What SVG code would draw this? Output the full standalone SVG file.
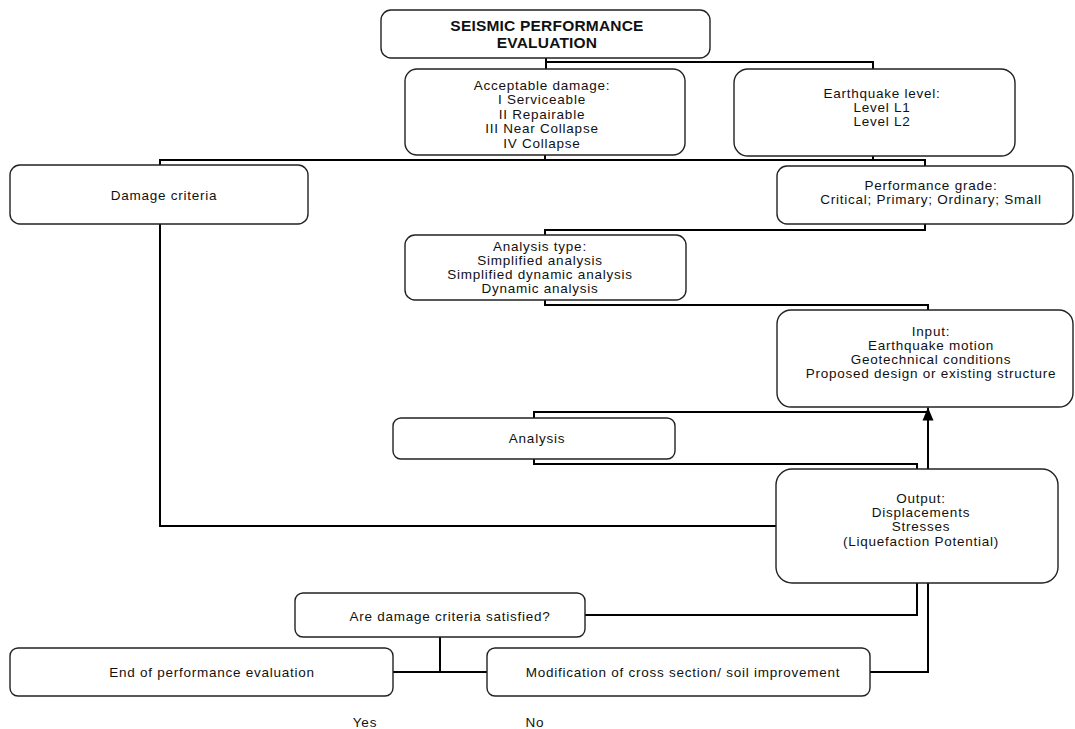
<svg xmlns="http://www.w3.org/2000/svg" width="1075" height="729" viewBox="0 0 1075 729">
<style>
.box{fill:#fff;stroke:#222;stroke-width:1.4}
.t{font-family:"Liberation Sans",Arial,sans-serif;font-size:13.5px;letter-spacing:0.75px;fill:#111;text-anchor:middle}
.b{font-weight:bold;font-size:15.5px;letter-spacing:0.2px}
.c{fill:none;stroke:#000;stroke-width:2}
</style>
<defs>
<marker id="ah" markerWidth="14" markerHeight="12" refX="13" refY="6" orient="auto" markerUnits="userSpaceOnUse">
<path d="M0,0.5 L13,6 L0,11.5 Z" fill="#000"/>
</marker>
</defs>
<rect width="1075" height="729" fill="#fff"/>
<g id="connectors">
<path class="c" d="M546,58 V69"/>
<path class="c" d="M546,62 H873 V69"/>
<path class="c" d="M545,155 V160"/>
<path class="c" d="M160,165 V160 H925 V166"/>
<path class="c" d="M873,156 V160"/>
<path class="c" d="M925,224 V230 H545 V235"/>
<path class="c" d="M545,300 V305 H928 V310"/>
<path class="c" d="M928,469 V407.5" marker-end="url(#ah)"/>
<path class="c" d="M534,418 V412 H928"/>
<path class="c" d="M534,459 V464 H917 V469"/>
<path class="c" d="M160,224 V526 H776"/>
<path class="c" d="M917,583 V615 H585"/>
<path class="c" d="M928,583 V672 H870"/>
<path class="c" d="M440,637 V672"/>
<path class="c" d="M393,672 H487"/>
</g>
<g id="n-seismic">
<rect class="box" x="381" y="10" width="329" height="48" rx="10"/>
<text class="t b" x="547" y="31">SEISMIC PERFORMANCE</text>
<text class="t b" x="547" y="48">EVALUATION</text>
</g>
<g id="n-acceptable">
<rect class="box" x="405" y="69" width="280" height="86" rx="12"/>
<text class="t" x="542" y="90">Acceptable damage:</text>
<text class="t" x="542" y="104">I Serviceable</text>
<text class="t" x="542" y="118.5">II Repairable</text>
<text class="t" x="542" y="133">III Near Collapse</text>
<text class="t" x="542" y="147.5">IV Collapse</text>
</g>
<g id="n-earthquake">
<rect class="box" x="734" y="69" width="281" height="87" rx="14"/>
<text class="t" x="882" y="98">Earthquake level:</text>
<text class="t" x="882" y="112">Level L1</text>
<text class="t" x="882" y="126">Level L2</text>
</g>
<g id="n-damage">
<rect class="box" x="10" y="165" width="298" height="59" rx="10"/>
<text class="t" x="164" y="200">Damage criteria</text>
</g>
<g id="n-grade">
<rect class="box" x="777" y="166" width="296" height="58" rx="10"/>
<text class="t" x="931" y="190">Performance grade:</text>
<text class="t" x="931" y="204">Critical; Primary; Ordinary; Small</text>
</g>
<g id="n-type">
<rect class="box" x="405" y="235" width="281" height="65" rx="10"/>
<text class="t" x="540" y="251">Analysis type:</text>
<text class="t" x="540" y="265">Simplified analysis</text>
<text class="t" x="540" y="279">Simplified dynamic analysis</text>
<text class="t" x="540" y="293">Dynamic analysis</text>
</g>
<g id="n-input">
<rect class="box" x="777" y="310" width="296" height="97" rx="14"/>
<text class="t" x="931" y="336">Input:</text>
<text class="t" x="931" y="350">Earthquake motion</text>
<text class="t" x="931" y="364">Geotechnical conditions</text>
<text class="t" x="931" y="378">Proposed design or existing structure</text>
</g>
<g id="n-analysis">
<rect class="box" x="393" y="418" width="282" height="41" rx="8"/>
<text class="t" x="537" y="443">Analysis</text>
</g>
<g id="n-output">
<rect class="box" x="776" y="469" width="282" height="114" rx="16"/>
<text class="t" x="921" y="503">Output:</text>
<text class="t" x="921" y="517">Displacements</text>
<text class="t" x="921" y="531">Stresses</text>
<text class="t" x="921" y="545.5">(Liquefaction Potential)</text>
</g>
<g id="n-question">
<rect class="box" x="295" y="593" width="290" height="44" rx="8"/>
<text class="t" x="450" y="621">Are damage criteria satisfied?</text>
</g>
<g id="n-end">
<rect class="box" x="10" y="648" width="383" height="48" rx="8"/>
<text class="t" x="212" y="677">End of performance evaluation</text>
</g>
<g id="n-mod">
<rect class="box" x="487" y="648" width="383" height="48" rx="8"/>
<text class="t" x="683" y="677">Modification of cross section/ soil improvement</text>
</g>
<g id="labels">
<text class="t" x="365" y="727">Yes</text>
<text class="t" x="535" y="727">No</text>
</g>
</svg>
